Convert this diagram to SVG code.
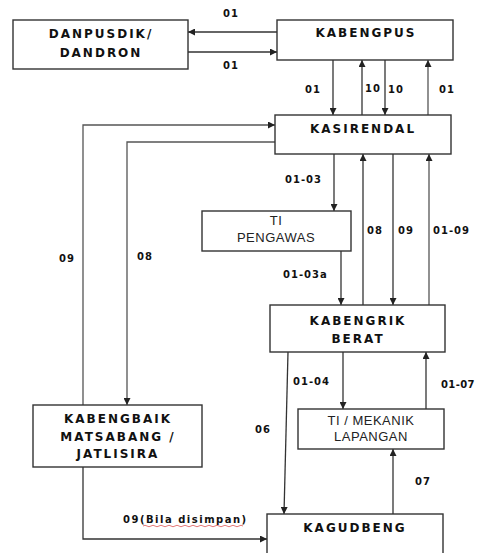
<svg xmlns="http://www.w3.org/2000/svg" width="477" height="553" viewBox="0 0 477 553">
<style>
.box{fill:#fff;stroke:#333;stroke-width:1.4}
.t{font-family:"DejaVu Sans",sans-serif;font-weight:bold;font-size:12px;letter-spacing:2px;fill:#111;text-anchor:middle}
.r{font-family:"Liberation Sans",Arial,sans-serif;font-size:13px;letter-spacing:0.5px;fill:#222;text-anchor:middle}
.l{font-family:"DejaVu Sans",sans-serif;font-weight:bold;font-size:10px;letter-spacing:1px;fill:#111}
.c{fill:none;stroke:#333;stroke-width:1.3;marker-end:url(#ah)}
.cg{fill:none;stroke:#555;stroke-width:1.3;marker-end:url(#ah)}
</style>
<defs>
<marker id="ah" viewBox="0 0 10 10" refX="10" refY="5" markerWidth="7" markerHeight="7" markerUnits="userSpaceOnUse" orient="auto">
<path d="M0,0 L10,5 L0,10 z" fill="#222"/>
</marker>
</defs>
<rect width="477" height="553" fill="#fff"/>
<g id="connectors">
<path class="c" d="M277,32 H188"/>
<path class="c" d="M188,52 H277"/>
<path class="c" d="M333,60 V115"/>
<path class="c" d="M362,115 V60"/>
<path class="c" d="M385,60 V115"/>
<path class="cg" d="M428,115 V60"/>
<path class="cg" d="M83,405 V125 H275"/>
<path class="cg" d="M275,142 H127 V405"/>
<path class="c" d="M334,154 V211"/>
<path class="c" d="M341,251 V305"/>
<path class="c" d="M363,305 V154"/>
<path class="c" d="M393,154 V305"/>
<path class="cg" d="M429,305 V154"/>
<path class="c" d="M288,352 L284,514"/>
<path class="c" d="M343,352 V409"/>
<path class="c" d="M426,409 V352"/>
<path class="c" d="M393,514 V449"/>
<path class="c" d="M83,467 V539 H267"/>
</g>
<g id="labels">
<text class="l" x="223" y="17">01</text>
<text class="l" x="223" y="69">01</text>
<text class="l" x="305" y="93">01</text>
<text class="l" x="365" y="92">10</text>
<text class="l" x="388" y="93">10</text>
<text class="l" x="439" y="93">01</text>
<text class="l" x="285" y="183">01-03</text>
<text class="l" x="367" y="234">08</text>
<text class="l" x="398" y="234">09</text>
<text class="l" x="433" y="234">01-09</text>
<text class="l" x="283" y="278">01-03a</text>
<text class="l" x="59" y="262">09</text>
<text class="l" x="137" y="260">08</text>
<text class="l" x="293" y="385">01-04</text>
<text class="l" x="441" y="388" style="letter-spacing:0.4px">01-07</text>
<text class="l" x="255" y="433">06</text>
<text class="l" x="415" y="485">07</text>
<text class="l" x="123" y="523" style="letter-spacing:1.5px">09(Bila disimpan)</text>
<path d="M143,526 q2,-1.5 4,0 t4,0 t4,0 t4,0 t4,0 t4,0 t4,0 t4,0 t4,0 t4,0 t4,0 t4,0 t4,0 t4,0 t4,0 t4,0 t4,0 t4,0 t4,0 t4,0 t4,0 t4,0 t4,0 t4,0 t4,0" fill="none" stroke="#d55" stroke-width="0.8"/>
</g>
<g id="danpusdik">
<rect class="box" x="13" y="20" width="175" height="49"/>
<text class="t" x="101" y="38">DANPUSDIK/</text>
<text class="t" x="101" y="57">DANDRON</text>
</g>
<g id="kabengpus">
<rect class="box" x="277" y="20" width="176" height="40"/>
<text class="t" x="366" y="37">KABENGPUS</text>
</g>
<g id="kasirendal">
<rect class="box" x="275" y="115" width="176" height="39"/>
<text class="t" x="363" y="133">KASIRENDAL</text>
</g>
<g id="ti-pengawas">
<rect class="box" x="202" y="211" width="149" height="40"/>
<text class="r" x="276" y="225">TI</text>
<text class="r" x="276" y="242">PENGAWAS</text>
</g>
<g id="kabengrik">
<rect class="box" x="270" y="305" width="175" height="47"/>
<text class="t" x="358" y="325">KABENGRIK</text>
<text class="t" x="358" y="343">BERAT</text>
</g>
<g id="ti-mekanik">
<rect class="box" x="298" y="409" width="146" height="40"/>
<text class="r" x="371" y="425">TI / MEKANIK</text>
<text class="r" x="371" y="441">LAPANGAN</text>
</g>
<g id="kabengbaik">
<rect class="box" x="33" y="405" width="169" height="62"/>
<text class="t" x="118" y="423">KABENGBAIK</text>
<text class="t" x="118" y="441">MATSABANG /</text>
<text class="t" x="118" y="458">JATLISIRA</text>
</g>
<g id="kagudbeng">
<rect class="box" x="267" y="514" width="176" height="50"/>
<text class="t" x="355" y="532">KAGUDBENG</text>
</g>
</svg>
